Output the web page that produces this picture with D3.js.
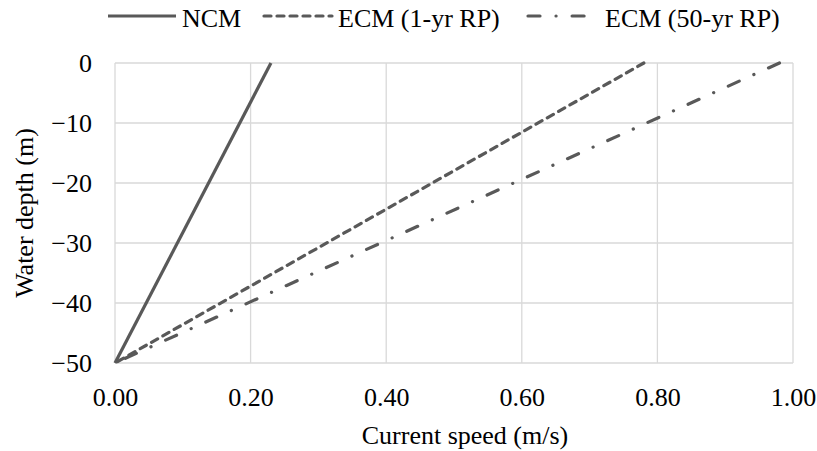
<!DOCTYPE html>
<html>
<head>
<meta charset="utf-8">
<script src="https://cdn.jsdelivr.net/npm/d3@7"></script>
<style>
  body { margin: 0; background: #fff; }
  svg { display: block; }
  svg text { font-family: "Liberation Serif", "Times New Roman", Times, serif; fill: #000; }
</style>
</head>
<body>
<svg width="817" height="451"></svg>
<script>
// Data: surface first, zero at the seabed
const depths = [0, -50];
const ncmSpeed = [0.23, 0];
const ecm1Speed = [0.78, 0];
const ecm50Speed = [0.98, 0];
const seriesNames = ["NCM", "ECM (1-yr RP)", "ECM (50-yr RP)"];
const xTicks = [0, 0.2, 0.4, 0.6, 0.8, 1.0];
const yTicks = [0, -10, -20, -30, -40, -50];

const DepthChart = function(_parentElement) {
  this.parentElement = _parentElement;
  this.initVis();
};

DepthChart.prototype.initVis = function() {
  let vis = this;

  vis.svg = d3.select(vis.parentElement);
  vis.margin = { left: 115, right: 24, top: 63, bottom: 88 };
  vis.width = +vis.svg.attr("width") - vis.margin.left - vis.margin.right;
  vis.height = +vis.svg.attr("height") - vis.margin.top - vis.margin.bottom;

  vis.g = vis.svg
    .append("g")
    .attr("transform", "translate(" + vis.margin.left + "," + vis.margin.top + ")");

  vis.x = d3.scaleLinear().domain([0, 1]).range([0, vis.width]);
  vis.y = d3.scaleLinear().domain([-50, 0]).range([vis.height, 0]);

  vis.series = [
    { name: seriesNames[0], values: ncmSpeed, dash: null, cap: "butt" },
    { name: seriesNames[1], values: ecm1Speed, dash: "7,6", cap: "round" },
    { name: seriesNames[2], values: ecm50Speed, dash: "12,16,0.1,16", cap: "round" }
  ];

  vis.renderVis();
};

DepthChart.prototype.renderVis = function() {
  let vis = this;
  const grid = "#d9d9d9";
  const lineColor = "#595959";

  // Vertical grid lines (and left border)
  vis.g.append("g")
    .selectAll("line")
    .data(xTicks)
    .enter()
    .append("line")
    .attr("x1", d => vis.x(d))
    .attr("x2", d => vis.x(d))
    .attr("y1", 0)
    .attr("y2", vis.height)
    .attr("stroke", grid)
    .attr("stroke-width", 1.3);

  // Horizontal grid lines
  vis.g.append("g")
    .selectAll("line")
    .data(yTicks)
    .enter()
    .append("line")
    .attr("x1", 0)
    .attr("x2", vis.width)
    .attr("y1", d => vis.y(d))
    .attr("y2", d => vis.y(d))
    .attr("stroke", grid)
    .attr("stroke-width", 1.3);

  // X axis labels
  const xAxis = d3.axisBottom(vis.x)
    .tickValues(xTicks)
    .tickFormat(d3.format(".2f"))
    .tickSize(0)
    .tickPadding(25);
  const xg = vis.g.append("g")
    .attr("transform", "translate(0," + vis.height + ")")
    .call(xAxis)
    .attr("font-family", null)
    .attr("font-size", "26px");
  xg.select(".domain").remove();

  // Y axis labels
  const yAxis = d3.axisLeft(vis.y)
    .tickValues(yTicks)
    .tickFormat(d3.format("d"))
    .tickSize(0)
    .tickPadding(23);
  const yg = vis.g.append("g")
    .call(yAxis)
    .attr("font-family", null)
    .attr("font-size", "26px");
  yg.select(".domain").remove();

  // Lines, drawn from the surface down so the dash pattern starts at the top
  const line = d3.line()
    .x(d => vis.x(d[0]))
    .y(d => vis.y(d[1]));

  vis.g.append("g")
    .selectAll("path")
    .data(vis.series)
    .enter()
    .append("path")
    .attr("d", s => line(s.values.map((v, i) => [v, depths[i]])))
    .attr("fill", "none")
    .attr("stroke", lineColor)
    .attr("stroke-width", 3.2)
    .attr("stroke-linecap", s => s.cap)
    .attr("stroke-dasharray", s => s.dash);

  // Axis titles
  vis.svg.append("text")
    .attr("x", 465)
    .attr("y", 444)
    .attr("font-size", "26px")
    .attr("text-anchor", "middle")
    .text("Current speed (m/s)");

  vis.svg.append("text")
    .attr("transform", "translate(33," + (vis.margin.top + vis.height / 2) + ") rotate(-90)")
    .attr("font-size", "26px")
    .attr("text-anchor", "middle")
    .text("Water depth (m)");

  // Legend
  const legendX = [108, 264, 528];
  vis.legend = vis.svg.append("g").attr("class", "legend");
  vis.series.forEach(function(s, i) {
    let row = vis.legend.append("g")
      .attr("transform", "translate(" + legendX[i] + ",16)");
    row.append("line")
      .attr("x1", 0)
      .attr("x2", 68)
      .attr("y1", 0)
      .attr("y2", 0)
      .attr("stroke", lineColor)
      .attr("stroke-width", 3.2)
      .attr("stroke-linecap", s.cap)
      .attr("stroke-dasharray", s.dash);
    row.append("text")
      .attr("x", i === 2 ? 77 : 74)
      .attr("y", 11)
      .attr("font-size", "26px")
      .text(s.name);
  });
};

new DepthChart("svg");
</script>
</body>
</html>
